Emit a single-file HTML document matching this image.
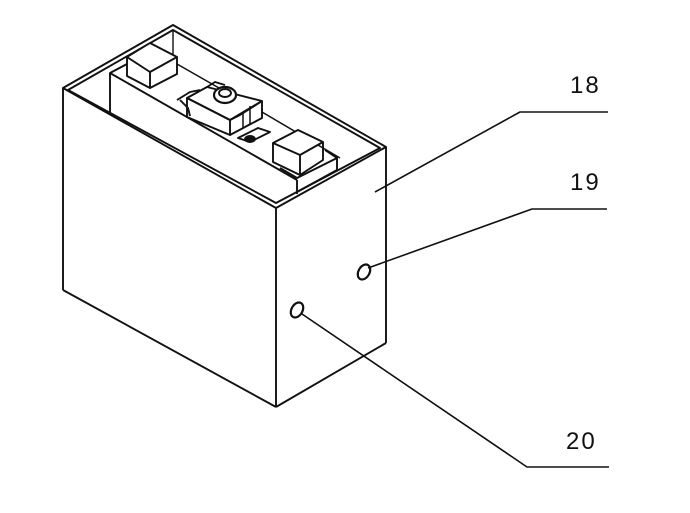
<!DOCTYPE html>
<html><head><meta charset="utf-8"><style>body{margin:0;background:#fff}svg{display:block}</style></head>
<body>
<svg width="690" height="513" viewBox="0 0 690 513" xmlns="http://www.w3.org/2000/svg" fill="none" stroke="#111" stroke-width="1.9" stroke-linejoin="round">
<!-- outer box -->
<polygon points="63,88 173,25 386,147 276,208" fill="#fff"/>
<polygon points="68,90 173,30 380,148 276,203"/>
<line x1="63" y1="88" x2="63" y2="290"/>
<line x1="63" y1="290" x2="276" y2="407"/>
<line x1="276" y1="208" x2="276" y2="407"/>
<line x1="276" y1="407" x2="386" y2="343"/>
<line x1="386" y1="147" x2="386" y2="343"/>
<line x1="173" y1="30" x2="173" y2="55" stroke-width="1.4"/>
<!-- long plate -->
<polyline points="110,113 110,73 127,64"/>
<line x1="110" y1="73" x2="297" y2="180"/>
<line x1="177" y1="64" x2="240" y2="100" stroke-width="1.5"/>
<line x1="262" y1="112" x2="340" y2="158" stroke-width="1.5"/>
<line x1="297" y1="180" x2="297" y2="194"/>
<!-- left cube -->
<polygon points="127,57 150,43 177,57 150,72" fill="#fff"/>
<polyline points="127,57 127,76 150,88 177,74 177,57"/>
<line x1="150" y1="72" x2="150" y2="88"/>
<!-- center component pocket -->
<polyline points="177,100 190,92 200,90"/>
<polyline points="180,100 188,108 190,116"/>
<polygon points="238,138 258,128 270,132 250,142"/>
<!-- center box -->
<polygon points="187,98 207,87 262,101 240,115 230,120" fill="#fff"/>
<polyline points="207,87 215,82 225,85"/>
<polyline points="187,98 187,117 230,135 230,120 187,98"/>
<polyline points="230,135 262,118 262,101"/>
<line x1="230" y1="120" x2="262" y2="101"/>
<polyline points="243,112 243,128 250,124 250,106" stroke-width="1.5"/>
<ellipse cx="225" cy="95" rx="11" ry="8" fill="#fff" stroke-width="2.2"/>
<ellipse cx="225" cy="93" rx="6" ry="4"/>
<ellipse cx="250" cy="139" rx="5" ry="3" fill="#111"/>
<!-- right cube and step -->
<polygon points="273,143 298,130 323,142 300,155" fill="#fff"/>
<polyline points="273,143 273,162 300,175 323,160 323,142"/>
<line x1="300" y1="155" x2="300" y2="175"/>
<polyline points="280,168 297,178 337,158 337,170 297,192"/>
<line x1="325" y1="150" x2="337" y2="158"/>
<!-- holes -->
<ellipse cx="364" cy="272" rx="5.5" ry="8" transform="rotate(30 364 272)" stroke-width="2.2"/>
<ellipse cx="297" cy="310" rx="5.5" ry="8" transform="rotate(30 297 310)" stroke-width="2.2"/>
<!-- leaders -->
<polyline points="375,192 520,112 608,112" stroke-width="1.6"/>
<polyline points="368,268 532,209 607,209" stroke-width="1.6"/>
<polyline points="302,314 527,467 609,467" stroke-width="1.6"/>
<g fill="#111" stroke="none" font-family="Liberation Sans, sans-serif" font-size="24" letter-spacing="2">
<text x="570" y="93">18</text>
<text x="570" y="190">19</text>
<text x="566" y="449">20</text>
</g>
</svg>
</body></html>
